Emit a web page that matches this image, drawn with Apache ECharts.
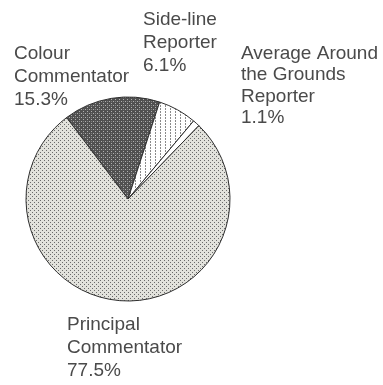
<!DOCTYPE html>
<html>
<head>
<meta charset="utf-8">
<script src="https://cdn.jsdelivr.net/npm/echarts@6/dist/echarts.min.js"></script>
<style>
  html, body { margin: 0; padding: 0; background: #fff; }
  #chart { width: 383px; height: 385px; }
</style>
</head>
<body>
<div id="chart"></div>
<script>
// roles, clockwise from the top-left edge of the pie
const roles = ['Colour\nCommentator', 'Side-line\nReporter', 'Average Around\nthe Grounds\nReporter', 'Principal\nCommentator'];
const shares = [15.3, 6.1, 1.1, 77.5];

// label top-left corners (px) and line spacing
const labelPos = [[14, 42], [143, 8], [241, 43], [67, 313]];
const labelLines = [23, 23, 21.5, 23];

// little tiles to fake the printed fill patterns
function tile(w, h, bg, draw) {
  const c = document.createElement('canvas');
  c.width = w; c.height = h;
  const ctx = c.getContext('2d');
  ctx.fillStyle = bg;
  ctx.fillRect(0, 0, w, h);
  draw(ctx);
  return { image: c, repeat: 'repeat' };
}

const dotted = tile(4, 4, '#e2e2dc', ctx => {
  ctx.fillStyle = '#6a6a6a';
  ctx.fillRect(0, 0, 1, 1);
  ctx.fillRect(2, 2, 1, 1);
});
const hatched = tile(4, 4, '#505050', ctx => {
  ctx.fillStyle = '#b0b0b0';
  ctx.fillRect(1, 1, 1, 1);
  ctx.fillRect(3, 3, 1, 1);
  ctx.fillStyle = '#808080';
  ctx.fillRect(3, 1, 1, 1);
});
const striped = tile(5, 3, '#ffffff', ctx => {
  ctx.fillStyle = '#8a8a8a';
  ctx.fillRect(0, 0, 1, 2);
});

const fills = [hatched, striped, '#ffffff', dotted];

const chart = echarts.init(document.getElementById('chart'));

chart.setOption({
  animation: false,
  series: [{
    type: 'pie',
    center: [128, 199],
    radius: [0, 102],
    startAngle: 127,
    clockwise: true,
    data: roles.map((r, i) => ({
      name: r,
      value: shares[i],
      itemStyle: { color: fills[i] },
      label: { lineHeight: labelLines[i] }
    })),
    itemStyle: {
      borderColor: '#2e2e2e',
      borderWidth: 1
    },
    label: {
      show: true,
      position: 'outside',
      formatter: p => p.name + '\n' + p.value.toFixed(1) + '%',
      fontFamily: 'Liberation Sans, Arial, sans-serif',
      fontSize: 19,
      color: '#4a4a4a',
      align: 'left',
      overflow: 'none',
      width: 200
    },
    labelLine: { show: false },
    labelLayout: p => ({
      x: labelPos[p.dataIndex][0],
      y: labelPos[p.dataIndex][1],
      align: 'left',
      verticalAlign: 'top'
    }),
    emphasis: { disabled: true }
  }]
});
</script>
</body>
</html>
